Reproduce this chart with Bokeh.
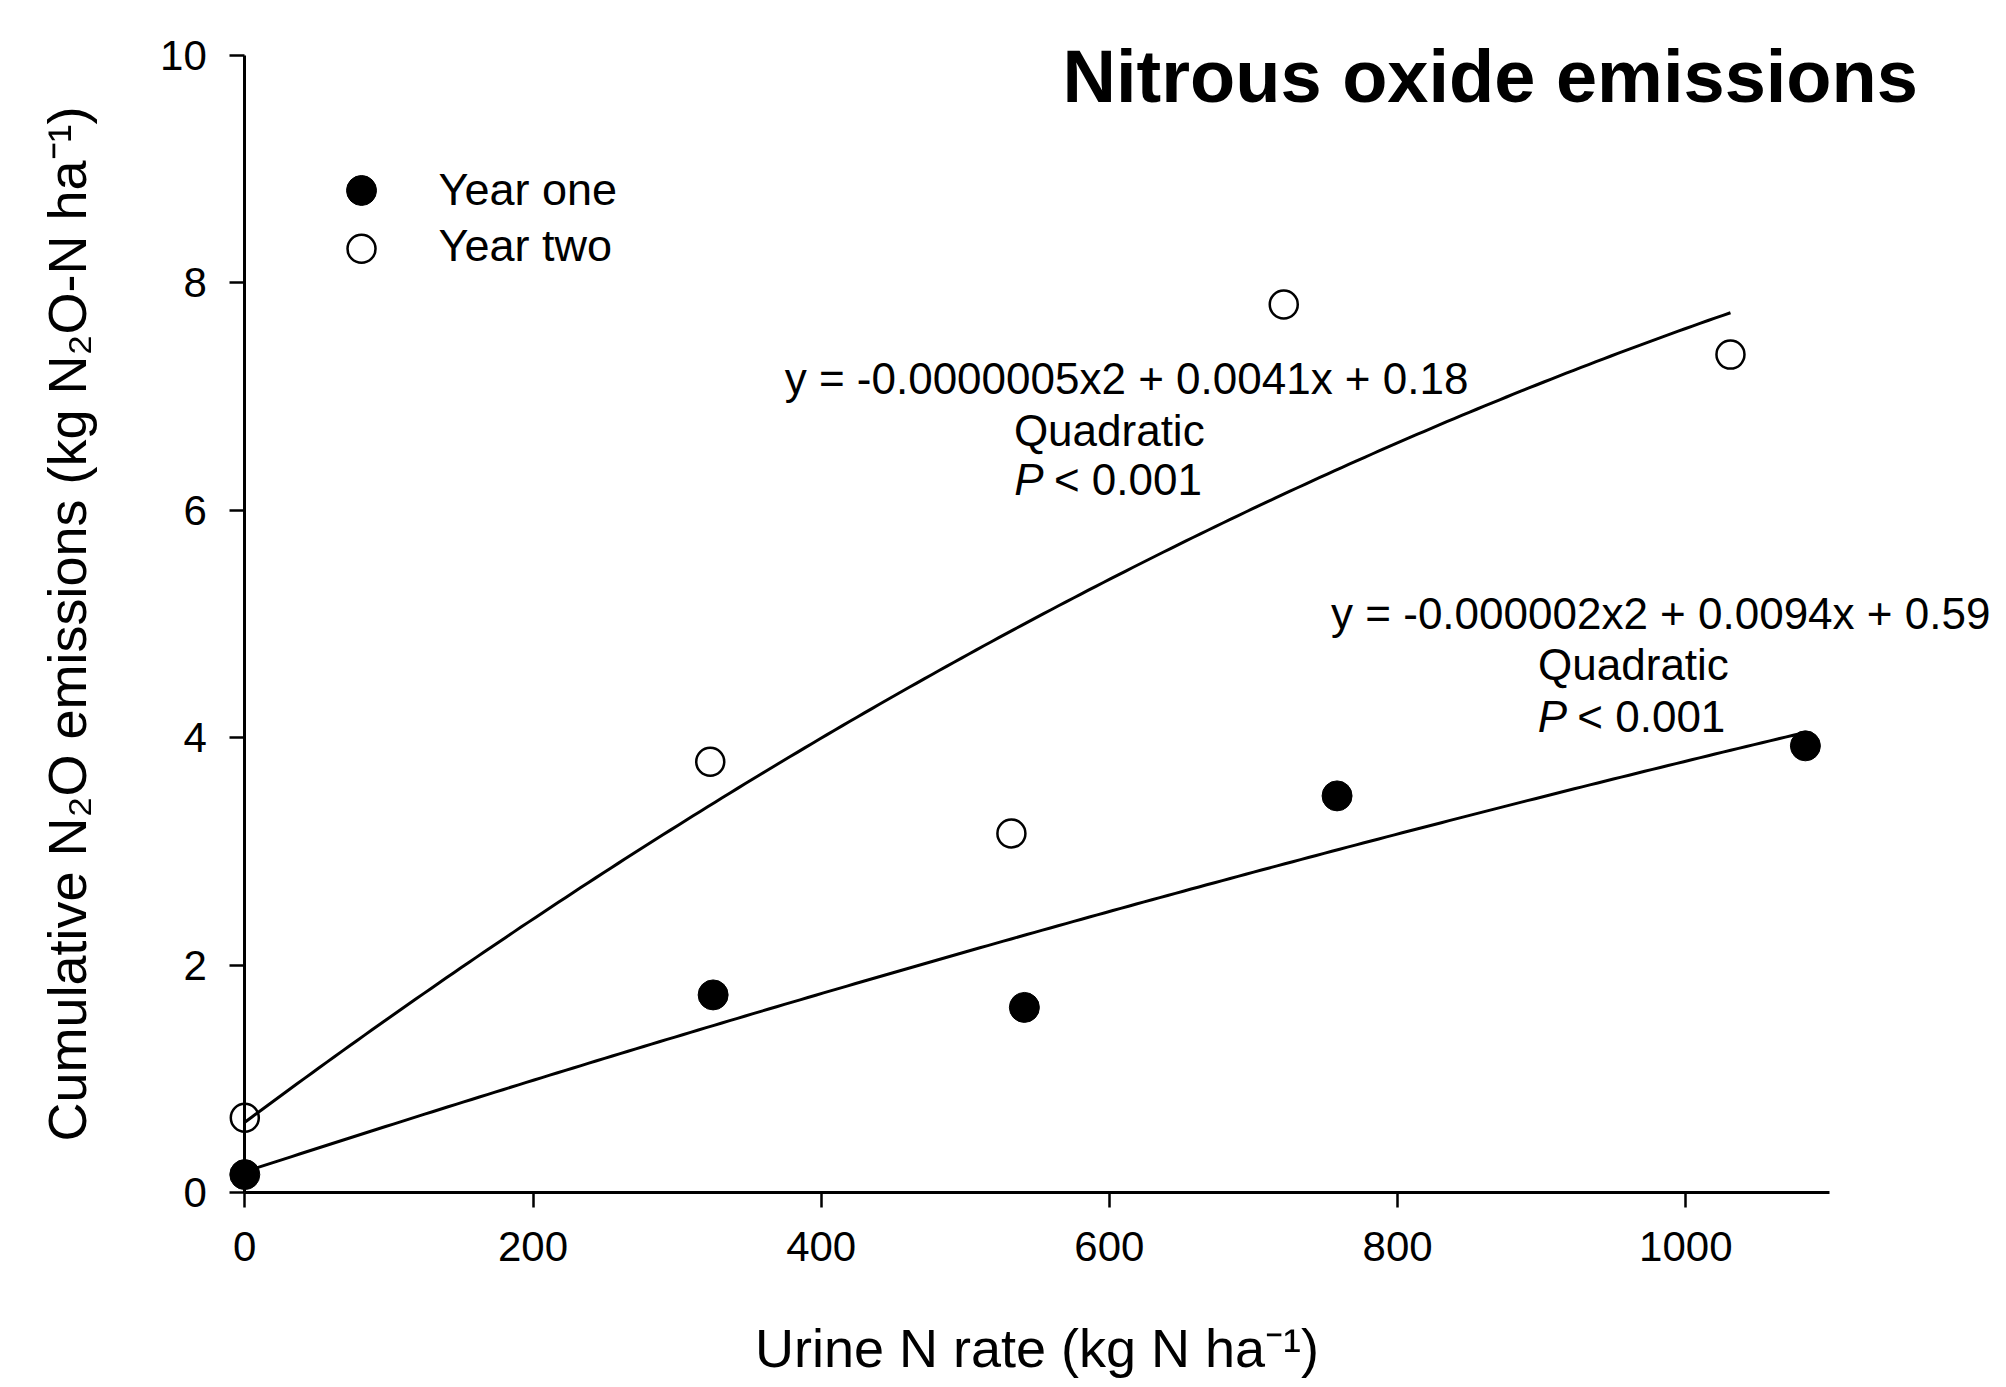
import numpy as np
from bokeh.plotting import figure
from bokeh.models import Range1d, Label, FixedTicker
from bokeh.embed import file_html
from bokeh.resources import INLINE

# ---------------- data ----------------
series_names = ["Year one", "Year two"]
year_one_x = [0, 325, 541, 758, 1083]
year_one_y = [0.16, 1.74, 1.63, 3.49, 3.93]
year_two_x = [0, 323, 532, 721, 1031]
year_two_y = [0.66, 3.79, 3.16, 7.81, 7.37]

# quadratic fit curves as drawn (a, b, c for y = a x^2 + b x + c) and their extent
fit_one_coef = [-5.1e-7, 0.00412, 0.185]
fit_one_xmax = 1080
fit_two_coef = [-2.44e-6, 0.00942, 0.62]
fit_two_xmax = 1031

x_ticks = [0, 200, 400, 600, 800, 1000]
y_ticks = [0, 2, 4, 6, 8, 10]

title_text = "Nitrous oxide emissions"
x_label = "Urine N rate (kg N ha\u207b\u00b9)"
y_label = "Cumulative N\u2082O emissions (kg N\u2082O-N ha\u207b\u00b9)"
eq_one_text = "y = -0.0000005x2 + 0.0041x + 0.18"
eq_two_text = "y = -0.000002x2 + 0.0094x + 0.59"
model_text = "Quadratic"
p_text = "P"
p_value_text = "< 0.001"

# ---------------- figure ----------------
FONT = "Liberation Sans"
W, H = 1990, 1379
X0_PX, PX_PER_X = 244.3, 1.441      # screen x of x=0, px per x unit
Y0_PX, PX_PER_Y = 1192.3, 113.73    # screen y of y=0, px per y unit

x_start = -X0_PX / PX_PER_X
x_end = (W - X0_PX) / PX_PER_X
y_end = Y0_PX / PX_PER_Y
y_start = (Y0_PX - H) / PX_PER_Y

p = figure(width=W, height=H,
           x_range=Range1d(x_start, x_end), y_range=Range1d(y_start, y_end),
           output_backend="svg", toolbar_location=None,
           min_border_left=0, min_border_right=0,
           min_border_top=0, min_border_bottom=0)
p.outline_line_color = None
p.grid.visible = False
p.background_fill_color = "white"
p.border_fill_color = "white"

for ax in (p.xaxis[0], p.yaxis[0]):
    ax.axis_line_width = 3
    ax.axis_line_color = "black"
    ax.major_tick_line_width = 2.5
    ax.major_tick_line_color = "black"
    ax.major_tick_in = 0
    ax.major_tick_out = 15
    ax.minor_tick_line_color = None
    ax.major_label_text_font = FONT
    ax.major_label_text_font_size = "42px"
    ax.major_label_text_color = "black"
    ax.axis_label_text_font = FONT
    ax.axis_label_text_font_size = "54px"
    ax.axis_label_text_font_style = "normal"
    ax.axis_label_text_color = "black"

p.xaxis.ticker = FixedTicker(ticks=x_ticks)
p.yaxis.ticker = FixedTicker(ticks=y_ticks)
p.xaxis.bounds = (0, 1100)
p.yaxis.bounds = (0, 10)
p.xaxis.fixed_location = 0
p.yaxis.fixed_location = 0
p.xaxis.major_label_standoff = 24
p.yaxis.major_label_standoff = 23
p.xaxis.axis_label = x_label
p.yaxis.axis_label = y_label
p.xaxis.axis_label_standoff = 54
p.yaxis.axis_label_standoff = 60

# ---------------- fit curves ----------------
for coef, xmax in ((fit_one_coef, fit_one_xmax), (fit_two_coef, fit_two_xmax)):
    xs = np.linspace(0, xmax, 200)
    ys = np.polyval(coef, xs)
    p.line(xs, ys, line_color="black", line_width=3)

# ---------------- points ----------------
p.scatter(year_one_x, year_one_y, size=30, marker="circle",
          fill_color="black", line_color="black", line_width=1)
p.scatter(year_two_x, year_two_y, size=28, marker="circle",
          fill_color=None, line_color="black", line_width=2.5)

# ---------------- legend (manual) ----------------
leg_x = 81
leg_y = [8.813, 8.300]
leg_text_x = 134.5
leg_text_y = [8.825, 8.327]
p.scatter([leg_x], [leg_y[0]], size=30, marker="circle",
          fill_color="black", line_color="black", line_width=1)
p.scatter([leg_x], [leg_y[1]], size=28, marker="circle",
          fill_color=None, line_color="black", line_width=2.5)
for name, ty in zip(series_names, leg_text_y):
    p.add_layout(Label(x=leg_text_x, y=ty, text=name, text_font=FONT,
                       text_font_size="45px", text_color="black",
                       text_align="left", text_baseline="alphabetic"))

# ---------------- title ----------------
p.add_layout(Label(x=567.5, y=9.815, text=title_text, text_font=FONT,
                   text_font_size="74px", text_font_style="bold",
                   text_color="black", text_align="left",
                   text_baseline="alphabetic"))

# ---------------- annotations ----------------
def annot(x, y, txt, align="center", style="normal"):
    p.add_layout(Label(x=x, y=y, text=txt, text_font=FONT,
                       text_font_size="44px", text_font_style=style,
                       text_color="black", text_align=align,
                       text_baseline="alphabetic"))

# block above upper curve
annot(611.9, 7.161, eq_one_text)
annot(599.9, 6.707, model_text)
annot(534.0, 6.276, p_text, align="left", style="italic")
annot(561.5, 6.276, p_value_text, align="left")
# block above lower curve
annot(982.6, 5.091, eq_two_text)
annot(963.7, 4.641, model_text)
annot(897.3, 4.187, p_text, align="left", style="italic")
annot(924.7, 4.187, p_value_text, align="left")

open("out.html", "w").write(file_html(p, INLINE))
